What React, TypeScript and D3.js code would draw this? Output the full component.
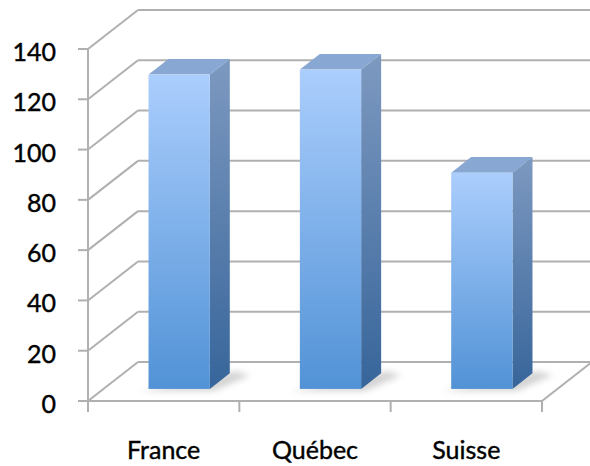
import React from "react";
import * as d3 from "d3";

const categories = ["France", "Québec", "Suisse"];
const values = [125, 127, 86];
const yTicks = [0, 20, 40, 60, 80, 100, 120, 140];

const W = 590;
const H = 466;
const left = 88;
const right = 542;
const yTop = 49;
const yBottom = 401;
const DX = 50;
const DY = -39;
const barFront = 0.31;
const barBack = 0.71;
const barFrac = 0.405;

export default function App() {
  const y = d3.scaleLinear().domain([0, 140]).range([yBottom, yTop]);
  const x = d3.scaleBand<string>().domain(categories).range([left, right]).padding(0);
  const P = (px: number, v: number, d: number): [number, number] => [px + d * DX, y(v) + d * DY];
  const pts = (arr: [number, number][]) => arr.map((p) => p.join(",")).join(" ");
  const grid = "#b0b0b0";
  const font = "Lato, 'Open Sans', sans-serif";
  const bw = x.bandwidth();
  const boundaries = [...categories.map((c) => x(c)!), right];

  return (
    <svg width={W} height={H} style={{ position: "absolute", left: 0, top: 0, background: "#fff" }}>
      <defs>
        <linearGradient id="front" x1="0" y1="0" x2="0" y2="1">
          <stop offset="0" stopColor="#abcefd" />
          <stop offset="1" stopColor="#5192d6" />
        </linearGradient>
        <linearGradient id="side" x1="0" y1="0" x2="0" y2="1">
          <stop offset="0" stopColor="#7d99c0" />
          <stop offset="1" stopColor="#37659a" />
        </linearGradient>
        <filter id="blur" x="-50%" y="-50%" width="200%" height="200%">
          <feGaussianBlur stdDeviation="3" />
        </filter>
      </defs>
      {yTicks.map((t) => {
        const [x0, y0] = P(left, t, 1);
        return <line key={"b" + t} x1={x0} y1={y0} x2={right + DX} y2={y0} stroke={grid} strokeWidth={2} />;
      })}
      {yTicks.map((t) => {
        const [x0, y0] = P(left, t, 0);
        const [x1, y1] = P(left, t, 1);
        return <line key={"s" + t} x1={x0} y1={y0} x2={x1} y2={y1} stroke={grid} strokeWidth={2} />;
      })}
      <line x1={left} y1={y(0)} x2={right} y2={y(0)} stroke={grid} strokeWidth={2} />
      <line x1={right} y1={y(0)} x2={right + DX} y2={y(0) + DY} stroke={grid} strokeWidth={2} />
      <line x1={left} y1={y(140)} x2={left} y2={y(0) + 11} stroke={grid} strokeWidth={2} />
      {yTicks.map((t) => (
        <line key={"yt" + t} x1={left - 10} y1={y(t)} x2={left} y2={y(t)} stroke={grid} strokeWidth={2} />
      ))}
      {boundaries.map((b, i) => (
        <line key={"xt" + i} x1={b} y1={y(0)} x2={b} y2={y(0) + 11} stroke={grid} strokeWidth={2} />
      ))}
      {categories.map((c, i) => {
        const v = values[i];
        const cx = x(c)! + bw / 2;
        const x0 = cx - (bw * barFrac) / 2;
        const x1 = cx + (bw * barFrac) / 2;
        const fBL = P(x0, 0, barFront);
        const fBR = P(x1, 0, barFront);
        const fTL = P(x0, v, barFront);
        const fTR = P(x1, v, barFront);
        const bTL = P(x0, v, barBack);
        const bTR = P(x1, v, barBack);
        const bBR = P(x1, 0, barBack);
        const shadow: [number, number][] = [
          [fBL[0] - 8, fBL[1] + 2],
          [fBR[0] + 4, fBR[1] + 2],
          [bBR[0] + 20, bBR[1] + 2],
          [bBR[0] + 6, bBR[1] - 2],
        ];
        return (
          <g key={c}>
            <polygon points={pts(shadow)} fill="#a8a8a8" opacity={0.5} filter="url(#blur)" />
            <polygon points={pts([fTL, bTL, bTR, fTR])} fill="#88a7d3" />
            <polygon points={pts([fTR, bTR, bBR, fBR])} fill="url(#side)" />
            <rect x={fTL[0]} y={fTL[1]} width={fTR[0] - fTL[0]} height={fBL[1] - fTL[1]} fill="url(#front)" />
          </g>
        );
      })}
      {yTicks.map((t) => (
        <text key={"yl" + t} x={56} y={y(t) + 12} textAnchor="end" fontFamily={font} fontSize={25}
          fill="#000" stroke="#000" strokeWidth={0.4}>
          {t}
        </text>
      ))}
      {categories.map((c) => (
        <text key={"cl" + c} x={x(c)! + bw / 2} y={459} textAnchor="middle" fontFamily={font} fontSize={25}
          fill="#000" stroke="#000" strokeWidth={0.4}>
          {c}
        </text>
      ))}
    </svg>
  );
}
